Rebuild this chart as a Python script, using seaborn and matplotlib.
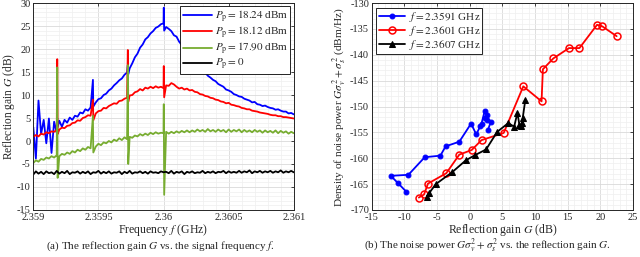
import numpy as np
import pandas as pd
import matplotlib
matplotlib.use("Agg")
import matplotlib.pyplot as plt
import matplotlib.ticker as mticker
import seaborn as sns

# ---- (a) reflection gain vs frequency, every 20 kHz ----
freq = np.linspace(2.359, 2.361, 101)

gain_1824 = [3.0, -3.8, 8.8, 1.5, 4.6, -0.5, 4.9, -2.6, 4.2, 1.8,
             4.4, 3.1, 4.6, 4.0, 5.1, 4.6, 5.5, 5.3, 6.2, 6.0,
             6.9, 6.6, 7.3, 8.6, 8.4, 9.1, 9.3, 10.0, 10.3, 11.0,
             11.4, 12.1, 12.6, 13.2, 13.6, 14.4, 14.9, 15.8, 16.9, 18.2,
             19.0, 20.3, 21.0, 22.1, 22.6, 23.4, 23.9, 24.6, 24.9, 25.4,
             25.6, 24.8, 24.4, 23.9, 23.0, 22.7, 21.6, 20.9, 20.3, 19.4,
             18.6, 17.8, 17.2, 16.4, 15.9, 15.2, 14.9, 14.2, 13.8, 13.3,
             13.0, 12.4, 12.1, 11.8, 11.2, 11.0, 10.7, 10.2, 10.0, 9.7,
             9.6, 9.2, 9.0, 8.8, 8.4, 8.5, 8.0, 7.9, 7.6, 7.7,
             7.4, 7.2, 7.1, 6.8, 6.9, 6.6, 6.4, 6.4, 6.0, 6.1,
             5.8]
gain_1812 = [0.9, 1.3, 1.0, 1.6, 1.4, 1.9, 1.7, 2.1, 2.0, 2.4,
             2.5, 2.9, 2.8, 3.3, 3.4, 3.9, 4.0, 4.5, 4.4, 5.0,
             5.2, 5.6, 5.5, 6.1, 6.0, 6.5, 6.6, 7.2, 7.1, 7.6,
             7.9, 8.2, 8.1, 8.7, 8.8, 9.2, 9.4, 9.9, 10.0, 10.6,
             10.8, 11.3, 11.0, 11.6, 11.4, 11.8, 11.5, 11.9, 11.6, 11.8,
             11.5, 12.1, 12.0, 12.6, 12.3, 11.8, 11.4, 11.6, 11.2, 11.4,
             11.0, 11.1, 10.7, 10.6, 10.2, 10.1, 9.8, 9.7, 9.4, 9.3,
             9.0, 8.9, 8.6, 8.5, 8.2, 8.3, 7.9, 7.8, 7.6, 7.5,
             7.2, 7.1, 6.9, 6.9, 6.6, 6.5, 6.4, 6.2, 6.1, 6.0,
             5.9, 5.7, 5.6, 5.6, 5.4, 5.4, 5.2, 5.2, 5.1, 5.0,
             4.9]
gain_1790 = [-4.8, -4.2, -4.5, -3.9, -4.1, -3.6, -3.8, -3.3, -3.6, -3.1,
             -3.3, -2.8, -3.0, -2.5, -2.8, -2.2, -2.5, -1.9, -2.2, -1.6,
             -1.9, -1.3, -1.6, -0.9, -1.2, -0.6, -0.9, -0.3, -0.5, 0.0,
             -0.3, 0.3, 0.0, 0.6, 0.2, 0.8, 0.4, 0.9, 0.7, 1.2,
             1.0, 1.5, 1.2, 1.6, 1.3, 1.8, 1.5, 1.9, 1.6, 1.8,
             1.7, 2.0, 1.6, 2.0, 1.7, 2.1, 1.8, 2.2, 1.9, 2.3,
             1.9, 2.3, 2.0, 2.5, 2.1, 2.4, 2.0, 2.6, 2.1, 2.4,
             2.0, 2.5, 2.1, 2.4, 1.9, 2.5, 2.0, 2.4, 2.1, 2.5,
             1.9, 2.4, 2.0, 2.3, 1.9, 2.4, 2.0, 2.3, 1.8, 2.3,
             1.9, 2.2, 1.8, 2.3, 1.7, 2.2, 1.8, 2.1, 1.6, 2.0,
             1.7]
gain_off = [-7.3, -6.6, -7.1, -6.7, -7.2, -6.6, -7.0, -6.8, -7.2, -6.5,
            -7.1, -6.7, -7.0, -6.5, -7.2, -6.8, -6.9, -6.6, -7.1, -6.7,
            -7.0, -6.6, -7.2, -6.8, -6.9, -6.5, -7.1, -6.7, -7.0, -6.6,
            -7.1, -6.8, -6.9, -6.6, -7.2, -6.7, -7.0, -6.5, -7.1, -6.8,
            -6.9, -6.6, -7.0, -6.7, -7.1, -6.6, -6.9, -6.8, -7.0, -6.6,
            -6.8, -6.7, -7.0, -6.5, -7.1, -6.7, -6.9, -6.6, -7.2, -6.7,
            -6.9, -6.6, -7.0, -6.8, -6.9, -6.5, -7.0, -6.7, -6.9, -6.6,
            -7.0, -6.7, -6.8, -6.5, -7.0, -6.6, -6.9, -6.7, -6.9, -6.5,
            -6.9, -6.6, -6.8, -6.4, -7.0, -6.6, -6.8, -6.5, -6.9, -6.6,
            -6.8, -6.5, -6.9, -6.6, -6.8, -6.4, -6.9, -6.6, -6.8, -6.5,
            -6.8]

# narrow spurious spikes: peak at f, dip just after it
spike_f = [2.359184, 2.359458, 2.359726, 2.360002]
spike_dip_f = [2.359187, 2.359461, 2.359729, 2.360005]
spike_1824 = [5.0, 13.3, 16.5, 29.0]
dip_1824 = [3.0, 7.5, 14.5, 24.0]
spike_1812 = [17.8, 9.0, 19.8, 16.3]
dip_1812 = [1.5, 4.5, 8.5, 9.5]
spike_1790 = [16.0, 5.5, 16.5, 8.0]
dip_1790 = [-8.0, -2.5, -5.0, -11.7]

labels_a = [r"$P_\mathrm{p} = 18.24$ dBm", r"$P_\mathrm{p} = 18.12$ dBm",
            r"$P_\mathrm{p} = 17.90$ dBm", r"$P_\mathrm{p} = 0$"]
colors_a = ["#0000ff", "#ff0000", "#77ac30", "#000000"]

# ---- (b) noise power density vs reflection gain ----
g_23591 = [-9.7, -11.0, -12.1, -9.4, -6.9, -4.5, -3.7, -1.6, 0.2, 1.0,
           1.6, 1.8, 2.3, 2.7, 2.3, 2.6, 3.2, 2.8]
n_23591 = [-166.5, -164.8, -163.4, -163.2, -159.8, -159.5, -157.7, -156.8, -153.3, -155.4,
           -153.8, -153.3, -150.8, -151.6, -152.2, -152.6, -153.0, -154.5]
g_23601 = [-7.8, -7.0, -6.4, -3.6, -1.6, 0.3, 1.8, 5.2, 8.2, 11.0,
           11.2, 12.8, 15.2, 16.8, 19.5, 20.3, 22.5]
n_23601 = [-167.6, -167.0, -164.9, -162.9, -159.3, -158.4, -156.5, -155.1, -146.1, -149.0,
           -142.8, -140.7, -138.7, -138.7, -134.2, -134.5, -136.4]
g_23607 = [-6.6, -6.2, -5.2, -2.7, -0.6, 0.8, 2.5, 4.2, 5.9, 6.8,
           7.3, 7.6, 7.9, 8.2, 8.0, 8.5]
n_23607 = [-167.4, -166.7, -165.0, -162.7, -160.4, -159.4, -158.3, -154.9, -153.2, -153.9,
           -151.2, -153.5, -153.8, -152.3, -153.2, -148.8]

sns.set_theme(style="whitegrid")
plt.rcParams["font.family"] = ["Liberation Serif", "DejaVu Serif"]
plt.rcParams["mathtext.fontset"] = "stix"
plt.rcParams["axes.unicode_minus"] = False

fig = plt.figure(figsize=(6.4, 2.57), dpi=100)
ax1 = fig.add_axes([0.052, 0.183, 0.407, 0.805])
ax2 = fig.add_axes([0.581, 0.183, 0.408, 0.805])

# build the long table for panel (a)
rows = []
for lab, base, pk, dp in [(labels_a[0], gain_1824, spike_1824, dip_1824),
                          (labels_a[1], gain_1812, spike_1812, dip_1812),
                          (labels_a[2], gain_1790, spike_1790, dip_1790),
                          (labels_a[3], gain_off, [], [])]:
    f_all = list(freq) + spike_f[:len(pk)] + spike_dip_f[:len(dp)]
    g_all = list(base) + list(pk) + list(dp)
    rows.append(pd.DataFrame({"f": f_all, "G": g_all, "series": lab}))
df_a = pd.concat(rows, ignore_index=True)

sns.lineplot(data=df_a, x="f", y="G", hue="series", hue_order=labels_a,
             palette=colors_a, estimator=None, sort=True, linewidth=1.3,
             ax=ax1)

sns.lineplot(x=g_23591, y=n_23591, sort=False, estimator=None, color="#0000ff",
             marker="o", markersize=3.5, markeredgecolor="#0000ff", linewidth=1.3,
             label=r"$f = 2.3591$ GHz", ax=ax2)
sns.lineplot(x=g_23601, y=n_23601, sort=False, estimator=None, color="#ff0000",
             marker="o", markersize=5, markerfacecolor="none", markeredgecolor="#ff0000",
             markeredgewidth=1.1, linewidth=1.3, label=r"$f = 2.3601$ GHz", ax=ax2)
sns.lineplot(x=g_23607, y=n_23607, sort=False, estimator=None, color="#000000",
             marker="^", markersize=5, markeredgecolor="#000000", linewidth=1.3,
             label=r"$f = 2.3607$ GHz", ax=ax2)

ax1.set_xlim(2.359, 2.361)
ax1.set_ylim(-15, 30)
ax1.xaxis.set_major_locator(mticker.MultipleLocator(0.0005))
ax1.xaxis.set_minor_locator(mticker.MultipleLocator(0.0001))
ax1.yaxis.set_major_locator(mticker.MultipleLocator(5))
ax1.yaxis.set_minor_locator(mticker.MultipleLocator(1))
ax1.xaxis.set_major_formatter(mticker.FuncFormatter(lambda v, p: f"{v:g}"))
ax1.set_xlabel(r"Frequency $f$ (GHz)", fontsize=8.5, labelpad=0)
ax1.set_ylabel(r"Reflection gain $G$ (dB)", fontsize=8.3, labelpad=0)

ax2.set_xlim(-15, 25)
ax2.set_ylim(-170, -130)
ax2.xaxis.set_major_locator(mticker.MultipleLocator(5))
ax2.xaxis.set_minor_locator(mticker.MultipleLocator(1))
ax2.yaxis.set_major_locator(mticker.MultipleLocator(5))
ax2.yaxis.set_minor_locator(mticker.MultipleLocator(1))
ax2.set_xlabel(r"Reflection gain $G$ (dB)", fontsize=8.5, labelpad=0)
ax2.set_ylabel(r"Density of noise power $G\sigma_v^2 + \sigma_s^2$ (dBm/Hz)",
               fontsize=8.2, labelpad=1)

for ax in (ax1, ax2):
    ax.set_facecolor("white")
    ax.grid(True, which="major", color="#d9d9d9", linewidth=0.6)
    ax.grid(True, which="minor", color="#efefef", linewidth=0.5)
    ax.set_axisbelow(True)
    for s in ax.spines.values():
        s.set_color("#262626")
        s.set_linewidth(0.7)
    ax.tick_params(which="both", direction="in", top=True, right=True,
                   labelsize=7.5, pad=2, colors="#262626")
    ax.tick_params(which="major", length=2.5, width=0.6)
    ax.tick_params(which="minor", length=0)

leg1 = ax1.legend(loc="upper right", fontsize=8, handlelength=2.6,
                  borderaxespad=0.3, borderpad=0.2, labelspacing=0.0,
                  handletextpad=0.3, fancybox=False, framealpha=1)
leg1.get_frame().set_edgecolor("black")
leg1.get_frame().set_linewidth(0.6)
for ln in leg1.get_lines():
    ln.set_linewidth(1.3)

leg2 = ax2.legend(loc="upper left", fontsize=8, handlelength=2.4,
                  borderaxespad=0.4, borderpad=0.2, labelspacing=0.0,
                  handletextpad=0.3, fancybox=False, framealpha=1)
leg2.get_frame().set_edgecolor("black")
leg2.get_frame().set_linewidth(0.6)

fig.text(0.25, 0.043, r"(a) The reflection gain $G$ vs. the signal frequency $f$.",
         ha="center", va="center", fontsize=8)
fig.text(0.762, 0.043, r"(b) The noise power $G\sigma_v^2 + \sigma_s^2$ vs. the reflection gain $G$.",
         ha="center", va="center", fontsize=8)

fig.savefig("out.png", dpi=100)
